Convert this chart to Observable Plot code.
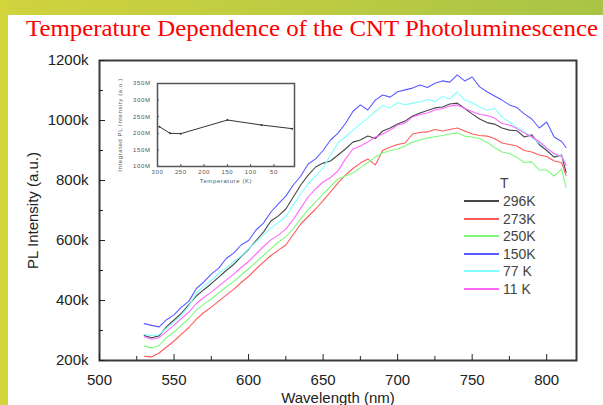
<!DOCTYPE html>
<html><head><meta charset="utf-8">
<script src="https://cdn.jsdelivr.net/npm/d3@7"></script>
<script src="https://cdn.jsdelivr.net/npm/@observablehq/plot@0.6"></script>
<style>
html,body{margin:0;padding:0;}
body{width:603px;height:405px;position:relative;overflow:hidden;background:#fff;font-family:"Liberation Sans",Arial,sans-serif;}
#topband{position:absolute;left:0;top:0;width:603px;height:15px;background:linear-gradient(to right,#d0d33e,#a9c446);}
#leftband{position:absolute;left:0;top:0;width:8px;height:405px;background:#d3d43a;}
#title{position:absolute;left:26px;top:14px;font-family:"Liberation Serif","Times New Roman",serif;font-size:24px;color:#f00;white-space:nowrap;line-height:28px;transform-origin:0 0;}
#main{position:absolute;left:8px;top:45px;}
#inset{position:absolute;left:105px;top:75px;}
#legend{position:absolute;left:0;top:0;font-size:14px;color:#444;}
.lg{position:absolute;white-space:nowrap;line-height:16px;}
.sw{position:absolute;width:35px;height:2px;}
</style></head>
<body>
<div id="topband"></div><div id="leftband"></div>
<div id="title">Temperature Dependence of the CNT Photoluminescence</div>
<div id="main"></div>
<div id="inset"></div>
<div id="legend"></div>
<script>
const wavelength = [530,535,540,545,550,555,560,565,570,575,580,585,590,595,600,605,610,615,620,625,630,635,640,645,650,655,660,665,670,675,680,685,690,695,700,705,710,715,720,725,730,735,740,745,750,755,760,765,770,775,780,785,790,795,800,805,810,813];
// PL intensity in thousands (k)
const s296 = [283,276,282,313,335,358,386,415,436,456,478,500,520,546,570,600,628,665,682,705,745,785,818,845,858,865,885,905,928,935,948,940,965,975,988,998,1015,1025,1033,1042,1045,1055,1058,1040,1022,1005,993,988,975,968,966,945,952,920,900,878,885,827];
const s273 = [214,212,225,245,265,288,310,338,360,378,398,418,437,460,480,505,528,550,568,585,620,655,680,705,733,762,792,818,840,858,872,852,900,912,920,925,955,960,962,970,965,970,975,965,955,950,948,940,925,920,915,900,895,885,880,865,860,817];
const s250 = [248,242,250,277,295,318,340,368,388,405,425,445,463,485,505,528,550,572,595,612,640,672,703,728,755,780,805,815,825,842,860,878,892,900,905,915,928,935,942,946,950,955,958,948,945,940,927,910,895,890,877,860,862,835,835,815,838,777];
const s150 = [323,317,312,336,352,378,398,440,462,488,508,540,558,585,600,635,658,695,722,748,785,815,855,872,900,935,958,990,1030,1052,1035,1068,1085,1078,1096,1102,1108,1118,1110,1124,1132,1128,1152,1132,1145,1112,1096,1082,1068,1052,1043,1022,1005,975,995,945,930,910];
const s77 = [287,283,286,308,328,352,382,425,448,466,490,508,530,548,572,595,618,642,660,680,718,755,790,815,842,885,925,945,968,988,1008,1030,1050,1042,1060,1052,1058,1062,1070,1063,1080,1072,1095,1068,1060,1045,1035,1040,1012,995,978,962,945,925,908,888,882,858];
const s11 = [280,271,276,297,318,340,362,390,410,428,448,468,488,510,530,555,580,602,618,638,670,708,745,772,795,810,832,872,905,915,928,945,955,968,985,992,1012,1020,1025,1035,1040,1048,1052,1040,1030,1020,1017,1008,990,985,973,958,945,930,908,890,880,850];
const seriesNames = ["296K","273K","250K","150K","77 K","11 K"];
const seriesColors = ["#474747","#ff5a5a","#7dfa7d","#5a5aff","#80ffff","#ff66ff"];
const seriesValues = [s296,s273,s250,s150,s77,s11];
const xTicks = [500,550,600,650,700,750,800];
const xMinor = [525,575,625,675,725,775];
const yTicks = [200000,400000,600000,800000,1000000,1200000];
const yMinor = [300000,500000,700000,900000,1100000];

// inset data
const insetTemp = [296,273,250,150,77,11];
const insetIntensity = [220,200,199,240,225,214]; // M
const insetXTicks = [300,250,200,150,100,50];
const insetYTicks = [100,150,200,250,300,350];

const rows = [];
seriesNames.forEach((n,k)=>wavelength.forEach((w,i)=>rows.push({w, v: seriesValues[k][i]*1000, T: n})));

const main = Plot.plot({
  width: 595, height: 360, marginLeft: 91, marginRight: 27, marginTop: 15, marginBottom: 45,
  style: {fontFamily: "Liberation Sans, Arial, sans-serif", fontSize: "15px", color: "#222", background: "transparent", overflow: "visible"},
  x: {domain: [500, 820]},
  y: {domain: [200000, 1200000]},
  color: {domain: seriesNames, range: seriesColors},
  marks: [
    Plot.line(rows, {x: "w", y: "v", stroke: "T", z: "T", strokeWidth: 1.1}),
    Plot.frame({stroke: "#3a3a3a", strokeWidth: 2}),
    Plot.axisX({ticks: xTicks, tickSize: -6, tickPadding: 20, tickFormat: d => d, label: "Wavelength (nm)", labelAnchor: "center", labelOffset: 42, labelArrow: "none", fontSize: 15}),
    Plot.axisX({ticks: xMinor, tickSize: -4, tickFormat: () => "", label: null}),
    Plot.axisY({ticks: yTicks, tickSize: -6, tickPadding: 17, tickFormat: d => (d/1000) + "k", label: "PL Intensity (a.u.)", labelAnchor: "center", labelOffset: 72, labelArrow: "none", fontSize: 15}),
    Plot.axisY({ticks: yMinor, tickSize: -4, tickFormat: () => "", label: null})
  ]
});
document.getElementById("main").append(main);

const insetRows = insetTemp.map((t,i)=>({T: t, I: insetIntensity[i]}));
const inset = Plot.plot({
  width: 195, height: 115, marginLeft: 52, marginTop: 8, marginRight: 6, marginBottom: 24,
  style: {fontFamily: "Liberation Sans, Arial, sans-serif", fontSize: "6px", letterSpacing: "0.6px", color: "#555", background: "transparent", overflow: "visible"},
  x: {domain: [300, 6]},
  y: {domain: [100, 350]},
  marks: [
    Plot.line(insetRows, {x: "T", y: "I", stroke: "#333", strokeWidth: 1}),
    Plot.dot(insetRows, {x: "T", y: "I", r: 1, fill: "#333"}),
    Plot.frame({stroke: "#555", strokeWidth: 1.5}),
    Plot.axisX({ticks: insetXTicks, tickSize: -2, tickPadding: 5, label: "Temperature (K)", labelAnchor: "center", labelOffset: 16, labelArrow: "none", fontSize: 6}),
    Plot.axisY({ticks: insetYTicks, tickSize: -2, tickPadding: 9, tickFormat: d => d + "M", label: "Integrated PL Intensity (a.u.)", labelAnchor: "center", labelOffset: 40, labelArrow: "none", fontSize: 6})
  ]
});
document.getElementById("inset").append(inset);

// legend
const lg = document.getElementById("legend");
const t = document.createElement("div"); t.className = "lg"; t.textContent = "T"; t.style.left = "500px"; t.style.top = "175px"; lg.append(t);
seriesNames.forEach((n,i)=>{
  const y = 201 + i*17.6;
  const sw = document.createElement("div"); sw.className = "sw"; sw.style.left = "464px"; sw.style.top = (y-1) + "px"; sw.style.background = seriesColors[i]; lg.append(sw);
  const tx = document.createElement("div"); tx.className = "lg"; tx.textContent = n; tx.style.left = "503px"; tx.style.top = (y-8) + "px"; lg.append(tx);
});
// fit title width
const title = document.getElementById("title");
const w = title.getBoundingClientRect().width;
title.style.transform = "scaleX(" + (572 / w) + ")";
</script>
</body></html>
